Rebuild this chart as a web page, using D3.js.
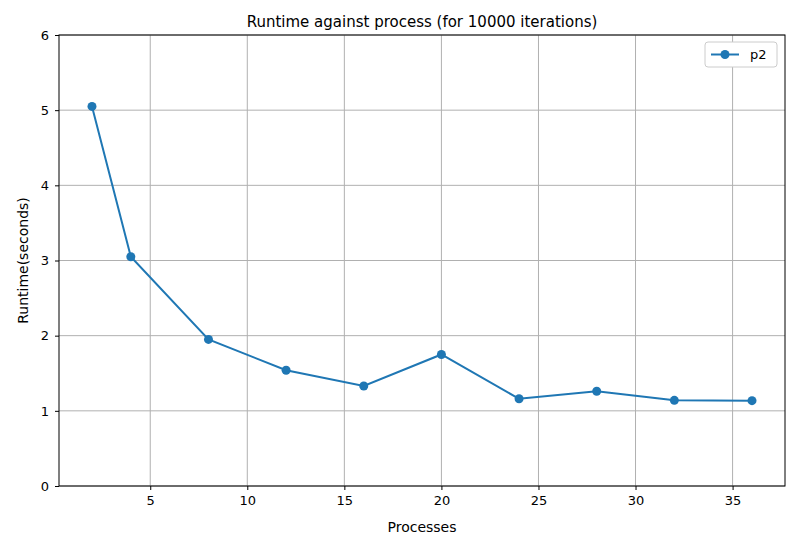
<!DOCTYPE html>
<html><head><meta charset="utf-8">
<script src="https://cdn.jsdelivr.net/npm/d3@7"></script>
<style>body{margin:0;background:#fff;font-family:"DejaVu Sans",sans-serif;}</style>
</head><body><svg id="c" width="800" height="550"></svg>
<script>
const processes = [2,4,8,12,16,20,24,28,32,36];
const runtimes = [5.05,3.05,1.95,1.54,1.33,1.75,1.16,1.26,1.14,1.135];
const xTicks = [5,10,15,20,25,30,35];
const yTicks = [0,1,2,3,4,5,6];
const title = "Runtime against process (for 10000 iterations)";
const seriesName = "p2";
const color = "#1f77b4";
const FONT = "DejaVu Sans";

const svg = d3.select("#c").attr("font-family",FONT);
const L=59,R=785,T=35,B=486;
const x = d3.scaleLinear().domain([0.3,37.7]).range([L,R]);
const y = d3.scaleLinear().domain([0,6]).range([B,T]);

const grid = svg.append("g").attr("stroke","#b0b0b0").attr("stroke-width",1);
xTicks.forEach(t=>grid.append("line").attr("x1",x(t)).attr("x2",x(t)).attr("y1",T).attr("y2",B));
yTicks.forEach(t=>grid.append("line").attr("x1",L).attr("x2",R).attr("y1",y(t)).attr("y2",y(t)));

svg.append("g").attr("transform",`translate(0,${B})`)
  .call(d3.axisBottom(x).tickValues(xTicks).tickFormat(d3.format("d")).tickSize(4).tickPadding(6))
  .call(g=>g.select(".domain").remove())
  .selectAll("text").attr("font-size",13).attr("font-family",FONT).attr("fill","#000");
svg.append("g").attr("transform",`translate(${L},0)`)
  .call(d3.axisLeft(y).tickValues(yTicks).tickFormat(d3.format("d")).tickSize(4).tickPadding(6))
  .call(g=>g.select(".domain").remove())
  .selectAll("text").attr("font-size",13).attr("font-family",FONT).attr("fill","#000");
svg.append("rect").attr("x",L).attr("y",T).attr("width",R-L).attr("height",B-T)
  .attr("fill","none").attr("stroke","#000").attr("stroke-width",1);

const data = processes.map((p,i)=>({p,v:runtimes[i]}));
svg.append("path").datum(data).attr("fill","none").attr("stroke",color).attr("stroke-width",2)
  .attr("d",d3.line().x(d=>x(d.p)).y(d=>y(d.v)));
svg.selectAll("circle.pt").data(data).enter().append("circle")
  .attr("cx",d=>x(d.p)).attr("cy",d=>y(d.v)).attr("r",4.5).attr("fill",color);

svg.append("text").attr("x",(L+R)/2).attr("y",27).attr("text-anchor","middle")
  .attr("font-size",15).text(title);
svg.append("text").attr("x",(L+R)/2).attr("y",532).attr("text-anchor","middle")
  .attr("font-size",14).text("Processes");
svg.append("text").attr("transform",`translate(28,${(T+B)/2}) rotate(-90)`).attr("text-anchor","middle")
  .attr("font-size",14).text("Runtime(seconds)");

const lg = svg.append("g");
lg.append("rect").attr("x",705).attr("y",42).attr("width",72).attr("height",25).attr("rx",3)
  .attr("fill","#fff").attr("stroke","#ccc");
lg.append("line").attr("x1",711).attr("x2",739).attr("y1",54.5).attr("y2",54.5).attr("stroke",color).attr("stroke-width",2);
lg.append("circle").attr("cx",725).attr("cy",54.5).attr("r",4.5).attr("fill",color);
lg.append("text").attr("x",750).attr("y",59).attr("font-size",13).text(seriesName);
</script></body></html>
